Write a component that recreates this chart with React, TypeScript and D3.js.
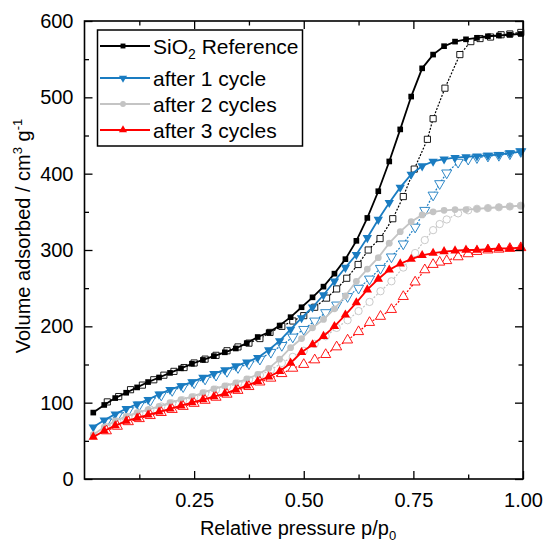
import * as d3 from 'd3';
import React, { useEffect, useRef } from 'react';

// adsorption branch, shared pressure grid (p/p0)
const adsP = [0.02, 0.045, 0.07, 0.095, 0.12, 0.145, 0.17, 0.195, 0.22, 0.245, 0.27, 0.295, 0.32, 0.345, 0.37, 0.395, 0.42, 0.445, 0.47, 0.495,
  0.52, 0.545, 0.57, 0.595, 0.62, 0.645, 0.67, 0.695, 0.72, 0.745, 0.77, 0.795, 0.82, 0.845, 0.87, 0.895, 0.92, 0.945, 0.97, 0.995];
const refAds = [87, 97, 106, 113, 120, 127, 133, 139, 145, 151, 156, 161, 166, 171, 178, 186, 192, 201, 212, 225,
  238, 252, 269, 288, 312, 342, 377, 416, 458, 501, 538, 556, 567, 573, 576, 578, 580, 581, 582, 583];
const cyc1Ads = [68, 77, 85, 92, 98, 104, 111, 117, 122, 127, 133, 138, 143, 148, 153, 159, 169, 181, 196, 211,
  225, 241, 259, 277, 294, 316, 340, 362, 382, 399, 410, 416, 419, 421, 422, 423, 424, 425, 427, 429];
const cyc2Ads = [58, 68, 76, 82, 87, 91, 95, 100, 104, 108, 113, 118, 122, 126, 131, 137, 145, 157, 172, 184,
  198, 209, 223, 240, 259, 275, 290, 309, 324, 337, 346, 350, 352, 353, 353, 354, 355, 356, 357, 358];
const cyc3Ads = [55, 63, 70, 76, 80, 84, 88, 92, 96, 100, 104, 108, 112, 117, 122, 128, 134, 141, 152, 166,
  176, 187, 200, 215, 231, 248, 262, 274, 282, 288, 293, 296, 298, 299, 300, 300, 301, 302, 302, 303];

// desorption branches
const refDesP = [0.995, 0.97, 0.95, 0.926, 0.902, 0.881, 0.856, 0.822, 0.795, 0.782, 0.752, 0.727, 0.703, 0.674, 0.647, 0.624, 0.598, 0.575, 0.552, 0.525,
  0.5, 0.475, 0.45, 0.423, 0.4, 0.375, 0.35, 0.325, 0.3, 0.275, 0.25, 0.227, 0.204, 0.181, 0.158, 0.132, 0.105, 0.078, 0.052];
const refDes = [585, 583, 582, 579, 577, 573, 556, 512, 472, 445, 406, 370, 341, 315, 300, 281, 263, 249, 237, 225,
  214, 207, 200, 192, 184, 178, 173, 168, 162, 157, 152, 146, 141, 136, 130, 123, 117, 108, 101];
const desP = [0.995, 0.97, 0.945, 0.92, 0.895, 0.875, 0.852, 0.826, 0.81, 0.795, 0.776, 0.754, 0.727, 0.7, 0.675, 0.65, 0.625, 0.6, 0.575, 0.55,
  0.525, 0.5, 0.475, 0.45, 0.425, 0.4, 0.375, 0.35, 0.325, 0.3, 0.275, 0.25, 0.225, 0.2, 0.175, 0.15, 0.125, 0.1, 0.075, 0.05];
const cyc1Des = [429, 426, 424, 423, 421, 419, 415, 401, 387, 372, 352, 330, 308, 291, 276, 262, 250, 239, 228, 218,
  207, 196, 186, 175, 166, 157, 151, 146, 141, 136, 131, 126, 121, 116, 110, 103, 97, 90, 83, 75];
const cyc2Des = [358, 357, 356, 355, 354, 352, 348, 340, 334, 326, 313, 296, 277, 259, 246, 232, 220, 208, 198, 187,
  177, 168, 160, 152, 143, 136, 130, 125, 121, 117, 112, 107, 103, 99, 95, 91, 86, 81, 75, 68];
const cyc3Des = [303, 302, 301, 300, 298, 295, 291, 286, 284, 281, 274, 258, 239, 222, 213, 205, 193, 182, 173, 163,
  156, 150, 145, 138, 132, 127, 121, 116, 111, 107, 103, 99, 95, 91, 87, 83, 79, 75, 69, 63];

const seriesNames = ['SiO2 Reference', 'after 1 cycle', 'after 2 cycles', 'after 3 cycles'];
const xTicks = [0.25, 0.5, 0.75, 1.0];
const xMinor = [0.125, 0.375, 0.625, 0.875];
const yTicks = [0, 100, 200, 300, 400, 500, 600];
const yMinor = [50, 150, 250, 350, 450, 550];

const FONT = '"Liberation Sans", Arial, sans-serif';

const App = () => {
  const svgRef = useRef<SVGSVGElement>(null);

  useEffect(() => {
    const width = 544;
    const height = 548;
    const left = 84.5, right = 523, top = 21, bottom = 479;

    const x = d3.scaleLinear().domain([0, 1]).range([left, right]);
    const y = d3.scaleLinear().domain([0, 600]).range([bottom, top]);

    const svg = d3.select(svgRef.current);
    svg.selectAll('*').remove();
    svg.attr('width', width).attr('height', height);

    const series = [
      { name: seriesNames[0], color: '#000000', sym: d3.symbolSquare, size: 32, rot: 0, ads: refAds, desP: refDesP, des: refDes },
      { name: seriesNames[1], color: '#1a7cc1', sym: d3.symbolTriangle, size: 38, rot: 180, ads: cyc1Ads, desP: desP, des: cyc1Des },
      { name: seriesNames[2], color: '#c4c4c4', sym: d3.symbolCircle, size: 36, rot: 0, ads: cyc2Ads, desP: desP, des: cyc2Des },
      { name: seriesNames[3], color: '#ff0000', sym: d3.symbolTriangle, size: 38, rot: 0, ads: cyc3Ads, desP: desP, des: cyc3Des },
    ];

    const line = d3.line<[number, number]>().x(d => x(d[0])).y(d => y(d[1]));

    series.forEach(s => {
      const ads: [number, number][] = adsP.map((p, i) => [p, s.ads[i]]);
      const des: [number, number][] = s.desP.map((p, i) => [p, s.des[i]]);
      const g = svg.append('g');

      // desorption: dotted line, open markers
      g.append('path').datum(des)
        .attr('fill', 'none').attr('stroke', s.color).attr('stroke-width', 1.2)
        .attr('stroke-dasharray', '2,1.5').attr('d', line);
      g.selectAll('.open').data(des).join('path')
        .attr('d', d3.symbol().type(s.sym).size(s.size + 6)())
        .attr('transform', d => `translate(${x(d[0])},${y(d[1])}) rotate(${s.rot})`)
        .attr('fill', 'white').attr('stroke', s.color).attr('stroke-width', 0.9);

      // adsorption: solid line, filled markers
      g.append('path').datum(ads)
        .attr('fill', 'none').attr('stroke', s.color).attr('stroke-width', 1.8).attr('d', line);
      g.selectAll('.filled').data(ads).join('path')
        .attr('d', d3.symbol().type(s.sym).size(s.size)())
        .attr('transform', d => `translate(${x(d[0])},${y(d[1])}) rotate(${s.rot})`)
        .attr('fill', s.color);
    });

    // axes (ticks inward, mirrored)
    const styleAxis = (g: any) => {
      g.select('.domain').remove();
      g.selectAll('line').attr('stroke', '#000').attr('stroke-width', 1.3);
      g.selectAll('text').attr('font-family', FONT).attr('font-size', 20).attr('fill', '#000');
    };
    svg.append('g').attr('transform', `translate(0,${bottom})`)
      .call(d3.axisBottom(x).tickValues(xTicks).tickSize(-8).tickPadding(14).tickFormat(d3.format('.2f')))
      .call(styleAxis);
    svg.append('g').attr('transform', `translate(0,${bottom})`)
      .call(d3.axisBottom(x).tickValues(xMinor).tickSize(-4.5).tickFormat(() => ''))
      .call(styleAxis);
    svg.append('g').attr('transform', `translate(0,${top})`)
      .call(d3.axisTop(x).tickValues(xTicks).tickSize(-8).tickFormat(() => ''))
      .call(styleAxis);
    svg.append('g').attr('transform', `translate(0,${top})`)
      .call(d3.axisTop(x).tickValues(xMinor).tickSize(-4.5).tickFormat(() => ''))
      .call(styleAxis);
    svg.append('g').attr('transform', `translate(${left},0)`)
      .call(d3.axisLeft(y).tickValues(yTicks).tickSize(-8).tickPadding(11).tickFormat(d3.format('d')))
      .call(styleAxis);
    svg.append('g').attr('transform', `translate(${left},0)`)
      .call(d3.axisLeft(y).tickValues(yMinor).tickSize(-4.5).tickFormat(() => ''))
      .call(styleAxis);
    svg.append('g').attr('transform', `translate(${right},0)`)
      .call(d3.axisRight(y).tickValues(yTicks).tickSize(-8).tickFormat(() => ''))
      .call(styleAxis);
    svg.append('g').attr('transform', `translate(${right},0)`)
      .call(d3.axisRight(y).tickValues(yMinor).tickSize(-4.5).tickFormat(() => ''))
      .call(styleAxis);

    // frame
    svg.append('rect')
      .attr('x', left).attr('y', top).attr('width', right - left).attr('height', bottom - top)
      .attr('fill', 'none').attr('stroke', '#000').attr('stroke-width', 1.6);

    // axis titles
    const xt = svg.append('text').attr('x', 298).attr('y', 535)
      .attr('text-anchor', 'middle').attr('font-family', FONT).attr('font-size', 20);
    xt.append('tspan').text('Relative pressure p/p');
    xt.append('tspan').attr('font-size', 13).attr('dy', 5).text('0');

    const yt = svg.append('text').attr('transform', 'translate(30,236) rotate(-90)')
      .attr('text-anchor', 'middle').attr('font-family', FONT).attr('font-size', 20);
    yt.append('tspan').text('Volume adsorbed / cm');
    yt.append('tspan').attr('font-size', 13).attr('dy', -8).text('3');
    yt.append('tspan').attr('dy', 8).text(' g');
    yt.append('tspan').attr('font-size', 13).attr('dy', -8).text('-1');

    // legend
    const lg = svg.append('g');
    lg.append('rect').attr('x', 97.5).attr('y', 30).attr('width', 205).attr('height', 116)
      .attr('fill', 'white').attr('stroke', '#000').attr('stroke-width', 1.5);
    const rowsY = [46, 78, 104, 130];
    series.forEach((s, i) => {
      const ry = rowsY[i];
      lg.append('line').attr('x1', 100).attr('x2', 150).attr('y1', ry).attr('y2', ry)
        .attr('stroke', s.color).attr('stroke-width', 1.8);
      lg.append('path').attr('d', d3.symbol().type(s.sym).size(s.size * 0.75)())
        .attr('transform', `translate(123,${ry}) rotate(${s.rot})`).attr('fill', s.color);
      const t = lg.append('text').attr('x', 153).attr('y', ry + 7.5)
        .attr('font-family', FONT).attr('font-size', 21).attr('fill', '#000');
      if (i === 0) {
        t.append('tspan').text('SiO');
        t.append('tspan').attr('font-size', 14).attr('dy', 5).text('2');
        t.append('tspan').attr('dy', -5).text(' Reference');
      } else {
        t.text(s.name);
      }
    });
  }, []);

  return <svg ref={svgRef} style={{ position: 'absolute', left: 0, top: 0 }}></svg>;
};

export default App;
